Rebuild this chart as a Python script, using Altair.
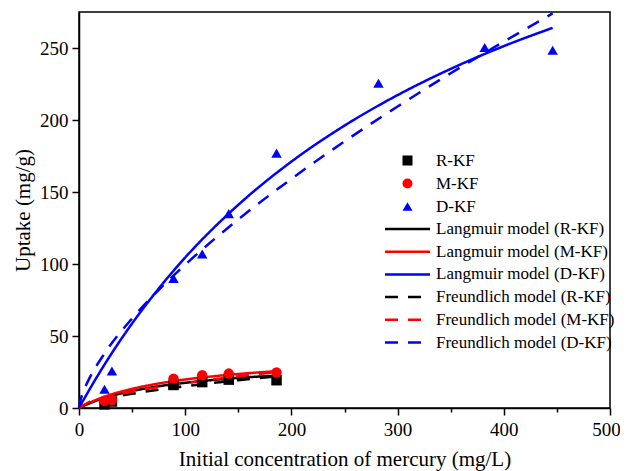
import altair as alt
import pandas as pd

# ---- data ----
series_names = ["R-KF", "M-KF", "D-KF"]
conc_RM = [24, 31, 89, 116, 141, 186]
conc_D = [24, 31, 89, 116, 141, 186, 282, 382, 446]
uptake_R = [2.5, 4.5, 16.0, 18.0, 19.7, 19.3]
uptake_M = [5.0, 5.5, 20.4, 22.7, 23.9, 24.6]
uptake_D = [13.0, 25.7, 90.0, 107.0, 135.0, 177.0, 225.5, 250.3, 248.4]

model_labels = [
    "Langmuir model (R-KF)", "Langmuir model (M-KF)", "Langmuir model (D-KF)",
    "Freundlich model (R-KF)", "Freundlich model (M-KF)", "Freundlich model (D-KF)",
]
fit_x_RM = [0, 10, 25, 50, 75, 100, 125, 150, 186]
lang_R = [0, 3.3, 7.2, 11.8, 15.1, 17.5, 19.4, 20.9, 22.5]
lang_M = [0, 3.7, 8.1, 13.3, 17.0, 19.8, 21.9, 23.6, 25.6]
freu_R = [0, 3.7, 6.5, 9.9, 12.7, 15.1, 17.3, 19.3, 22.0]
freu_M = [0, 4.3, 7.5, 11.4, 14.5, 17.2, 19.7, 22.0, 25.0]
fit_x_D = [0, 1, 2, 5, 10, 25, 50, 75, 100, 150, 200, 250, 300, 350, 400, 446]
lang_D = [0, 1.3, 2.7, 6.6, 13.0, 31.3, 58.7, 82.9, 104.5, 141.1, 171.1, 196.1, 217.3, 235.5, 251.3, 264.0]
freu_D = [0, 4.4, 7.0, 13.1, 20.9, 38.9, 62.2, 81.9, 99.5, 131.0, 159.1, 185.1, 209.4, 232.5, 254.4, 274.0]

x_ticks = list(range(0, 501, 50))
y_ticks = list(range(0, 276, 25))

series_colors = ["#000000", "#ff0000", "#0000ff"]
FONT = "Liberation Serif"

# ---- build tables ----
pts = []
for name, xs, ys in [("R-KF", conc_RM, uptake_R), ("M-KF", conc_RM, uptake_M), ("D-KF", conc_D, uptake_D)]:
    for a, b in zip(xs, ys):
        pts.append({"x": a, "y": b, "series": name})
pt_df = pd.DataFrame(pts)

lines = []
for lab, xs, ys in [
    (model_labels[0], fit_x_RM, lang_R), (model_labels[1], fit_x_RM, lang_M), (model_labels[2], fit_x_D, lang_D),
    (model_labels[3], fit_x_RM, freu_R), (model_labels[4], fit_x_RM, freu_M), (model_labels[5], fit_x_D, freu_D),
]:
    for a, b in zip(xs, ys):
        lines.append({"x": a, "y": b, "model": lab})
line_df = pd.DataFrame(lines)

xscale = alt.Scale(domain=[0, 500], nice=False)
yscale = alt.Scale(domain=[0, 275], nice=False)

axis_font = dict(labelFont=FONT, labelFontSize=19, labelColor="black", labelFontWeight="normal",
                 titleFont=FONT, titleFontSize=21, titleColor="black", titleFontWeight="normal",
                 domainColor="black", domainWidth=1.5, tickColor="black", tickWidth=1.5, grid=False,
                 labelFlush=False, labelOverlap=False)

xaxis = alt.Axis(
    title="Initial concentration of mercury (mg/L)",
    values=x_ticks,
    labelExpr="datum.value % 100 === 0 ? datum.label : ''",
    tickSize={"condition": {"test": "datum.value % 100 === 0", "value": 7}, "value": 4},
    labelOffset={"condition": {"test": "datum.value === 500", "value": -4}, "value": 0},
    labelPadding=5, titleY=57, titleBaseline="alphabetic",
    **axis_font,
)
yaxis = alt.Axis(
    title="Uptake (mg/g)",
    values=y_ticks,
    labelExpr="datum.value % 50 === 0 ? datum.label : ''",
    tickSize={"condition": {"test": "datum.value % 50 === 0", "value": 7}, "value": 4},
    labelPadding=4, titlePadding=6,
    **axis_font,
)

leg_common = dict(title=None, orient="none", labelFont=FONT, labelFontSize=17, labelFontWeight="normal",
                  labelColor="black", padding=0, labelLimit=400, symbolSize=100, labelOffset=20)

leg_lines = alt.Legend(legendX=320, legendY=208.5, symbolType="M-4.5,0H4.5",
                       symbolStrokeWidth=2.5, rowPadding=4.7, **leg_common)
leg_pts = alt.Legend(legendX=320, legendY=140, rowPadding=5, symbolOpacity=1, **leg_common)

line_layer = alt.Chart(line_df).mark_line(strokeWidth=2.5, interpolate="monotone").encode(
    x=alt.X("x:Q", scale=xscale, axis=xaxis),
    y=alt.Y("y:Q", scale=yscale, axis=yaxis),
    color=alt.Color("model:N", scale=alt.Scale(domain=model_labels, range=series_colors * 2), legend=leg_lines),
    strokeDash=alt.StrokeDash("model:N",
                              scale=alt.Scale(domain=model_labels, range=[[1, 0]] * 3 + [[13, 10]] * 3),
                              legend=leg_lines),
)

pt_layer = alt.Chart(pt_df).mark_point(filled=True, opacity=1, size=110).encode(
    x=alt.X("x:Q", scale=xscale),
    y=alt.Y("y:Q", scale=yscale),
    color=alt.Color("series:N", scale=alt.Scale(domain=series_names, range=series_colors), legend=leg_pts),
    shape=alt.Shape("series:N", scale=alt.Scale(domain=series_names, range=["square", "circle", "triangle-up"]),
                    legend=leg_pts),
)

chart = alt.layer(line_layer, pt_layer).resolve_scale(
    color="independent", strokeDash="independent", shape="independent"
).properties(
    width=531, height=396,
    autosize="none",
    padding={"left": 71, "top": 4, "right": 10, "bottom": 63},
).configure_view(
    stroke="black", strokeWidth=1.5,
)

chart.save("out.html", embed_options={"renderer": "svg", "actions": False})
